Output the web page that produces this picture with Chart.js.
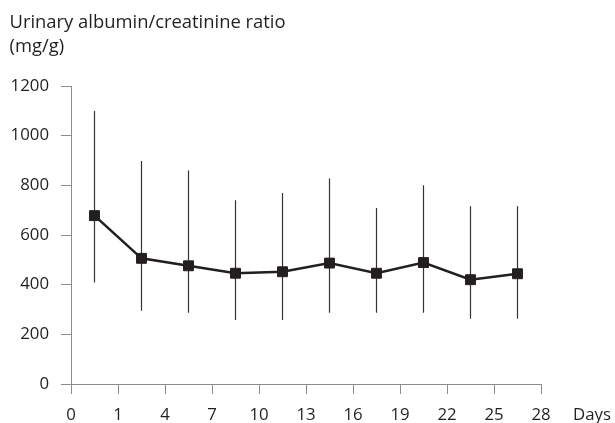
<!DOCTYPE html>
<html>
<head>
<meta charset="utf-8">
<script src="https://cdn.jsdelivr.net/npm/chart.js@4.4.0/dist/chart.umd.min.js"></script>
<style>
  html, body { margin: 0; padding: 0; background: #fff; }
  #wrap { width: 615px; height: 423px; }
</style>
</head>
<body>
<div id="wrap"><canvas id="ratioChart" width="615" height="423"></canvas></div>
<script>
// tick labels on the Days axis (one per gridline)
const dayTicks = ['0', '1', '4', '7', '10', '13', '16', '19', '22', '25', '28'];
// each measurement sits halfway between two day ticks
const pointPos = [0.5, 1.5, 2.5, 3.5, 4.5, 5.5, 6.5, 7.5, 8.5, 9.5];
const ratioMean = [678, 506, 476, 446, 452, 487, 446, 489, 420, 444];
const ratioUpper = [1100, 898, 860, 740, 769, 828, 709, 800, 716, 716];
const ratioLower = [409, 295, 287, 258, 258, 287, 287, 287, 263, 263];
const yTicks = [0, 200, 400, 600, 800, 1000, 1200];

const ink = '#231f20';
const axisGrey = '#8c8c8c';
const fontFamily = "'Open Sans', 'Noto Sans', sans-serif";
const tickSize = 16.8;
const titleSize = 18.4;

// error bars go under the line and the markers
const errorBars = {
    id: 'errorBars',
    beforeDatasetsDraw(chart) {
        const ctx = chart.ctx;
        const xs = chart.scales.x, ys = chart.scales.y;
        ctx.save();
        ctx.strokeStyle = '#333';
        ctx.lineWidth = 1.2;
        pointPos.forEach((p, i) => {
            const x = xs.getPixelForValue(p);
            ctx.beginPath();
            ctx.moveTo(x, ys.getPixelForValue(ratioUpper[i]));
            ctx.lineTo(x, ys.getPixelForValue(ratioLower[i]));
            ctx.stroke();
        });
        ctx.restore();
    }
};

// axis titles: two-line y title at the top left, "Days" after the last tick
const axisTitles = {
    id: 'axisTitles',
    afterDraw(chart) {
        const ctx = chart.ctx;
        const xs = chart.scales.x;
        ctx.save();
        ctx.fillStyle = ink;
        ctx.textAlign = 'left';
        ctx.textBaseline = 'alphabetic';
        ctx.font = titleSize + 'px ' + fontFamily;
        ctx.fillText('Urinary albumin/creatinine ratio', 9.5, 28);
        ctx.fillText('(mg/g)', 9.5, 52);
        ctx.font = tickSize + 'px ' + fontFamily;
        ctx.fillText('Days', xs.right + 32, 419.5);
        ctx.restore();
    }
};

new Chart(document.getElementById('ratioChart'), {
    type: 'line',
    data: {
        datasets: [{
            data: ratioMean.map((v, i) => ({ x: pointPos[i], y: v })),
            borderColor: ink,
            borderWidth: 2.5,
            pointStyle: 'rect',
            pointRadius: 7,
            pointBackgroundColor: ink,
            pointBorderColor: ink,
            pointBorderWidth: 1,
            tension: 0
        }]
    },
    options: {
        responsive: false,
        animation: false,
        devicePixelRatio: 1,
        layout: { padding: { top: 86, right: 74, left: 0, bottom: 0 } },
        plugins: { legend: { display: false }, tooltip: { enabled: false } },
        scales: {
            x: {
                type: 'linear',
                min: 0,
                max: dayTicks.length - 1,
                afterFit: s => { s.height = 39; },
                afterBuildTicks: s => { s.ticks = dayTicks.map((t, i) => ({ value: i })); },
                ticks: {
                    callback: (v) => dayTicks[v],
                    color: ink,
                    font: { size: tickSize, family: fontFamily },
                    padding: 11,
                    maxRotation: 0,
                    autoSkip: false
                },
                grid: { drawOnChartArea: false, tickLength: 10, color: axisGrey, lineWidth: 1 },
                border: { color: axisGrey, width: 1 }
            },
            y: {
                min: 0,
                max: 1200,
                afterFit: s => { s.width = 71; },
                afterBuildTicks: s => { s.ticks = yTicks.map(v => ({ value: v })); },
                ticks: {
                    callback: (v) => String(v),
                    color: ink,
                    font: { size: tickSize, family: fontFamily },
                    padding: 12
                },
                grid: { drawOnChartArea: false, tickLength: 10, color: axisGrey, lineWidth: 1 },
                border: { color: axisGrey, width: 1 }
            }
        }
    },
    plugins: [errorBars, axisTitles]
});
</script>
</body>
</html>
